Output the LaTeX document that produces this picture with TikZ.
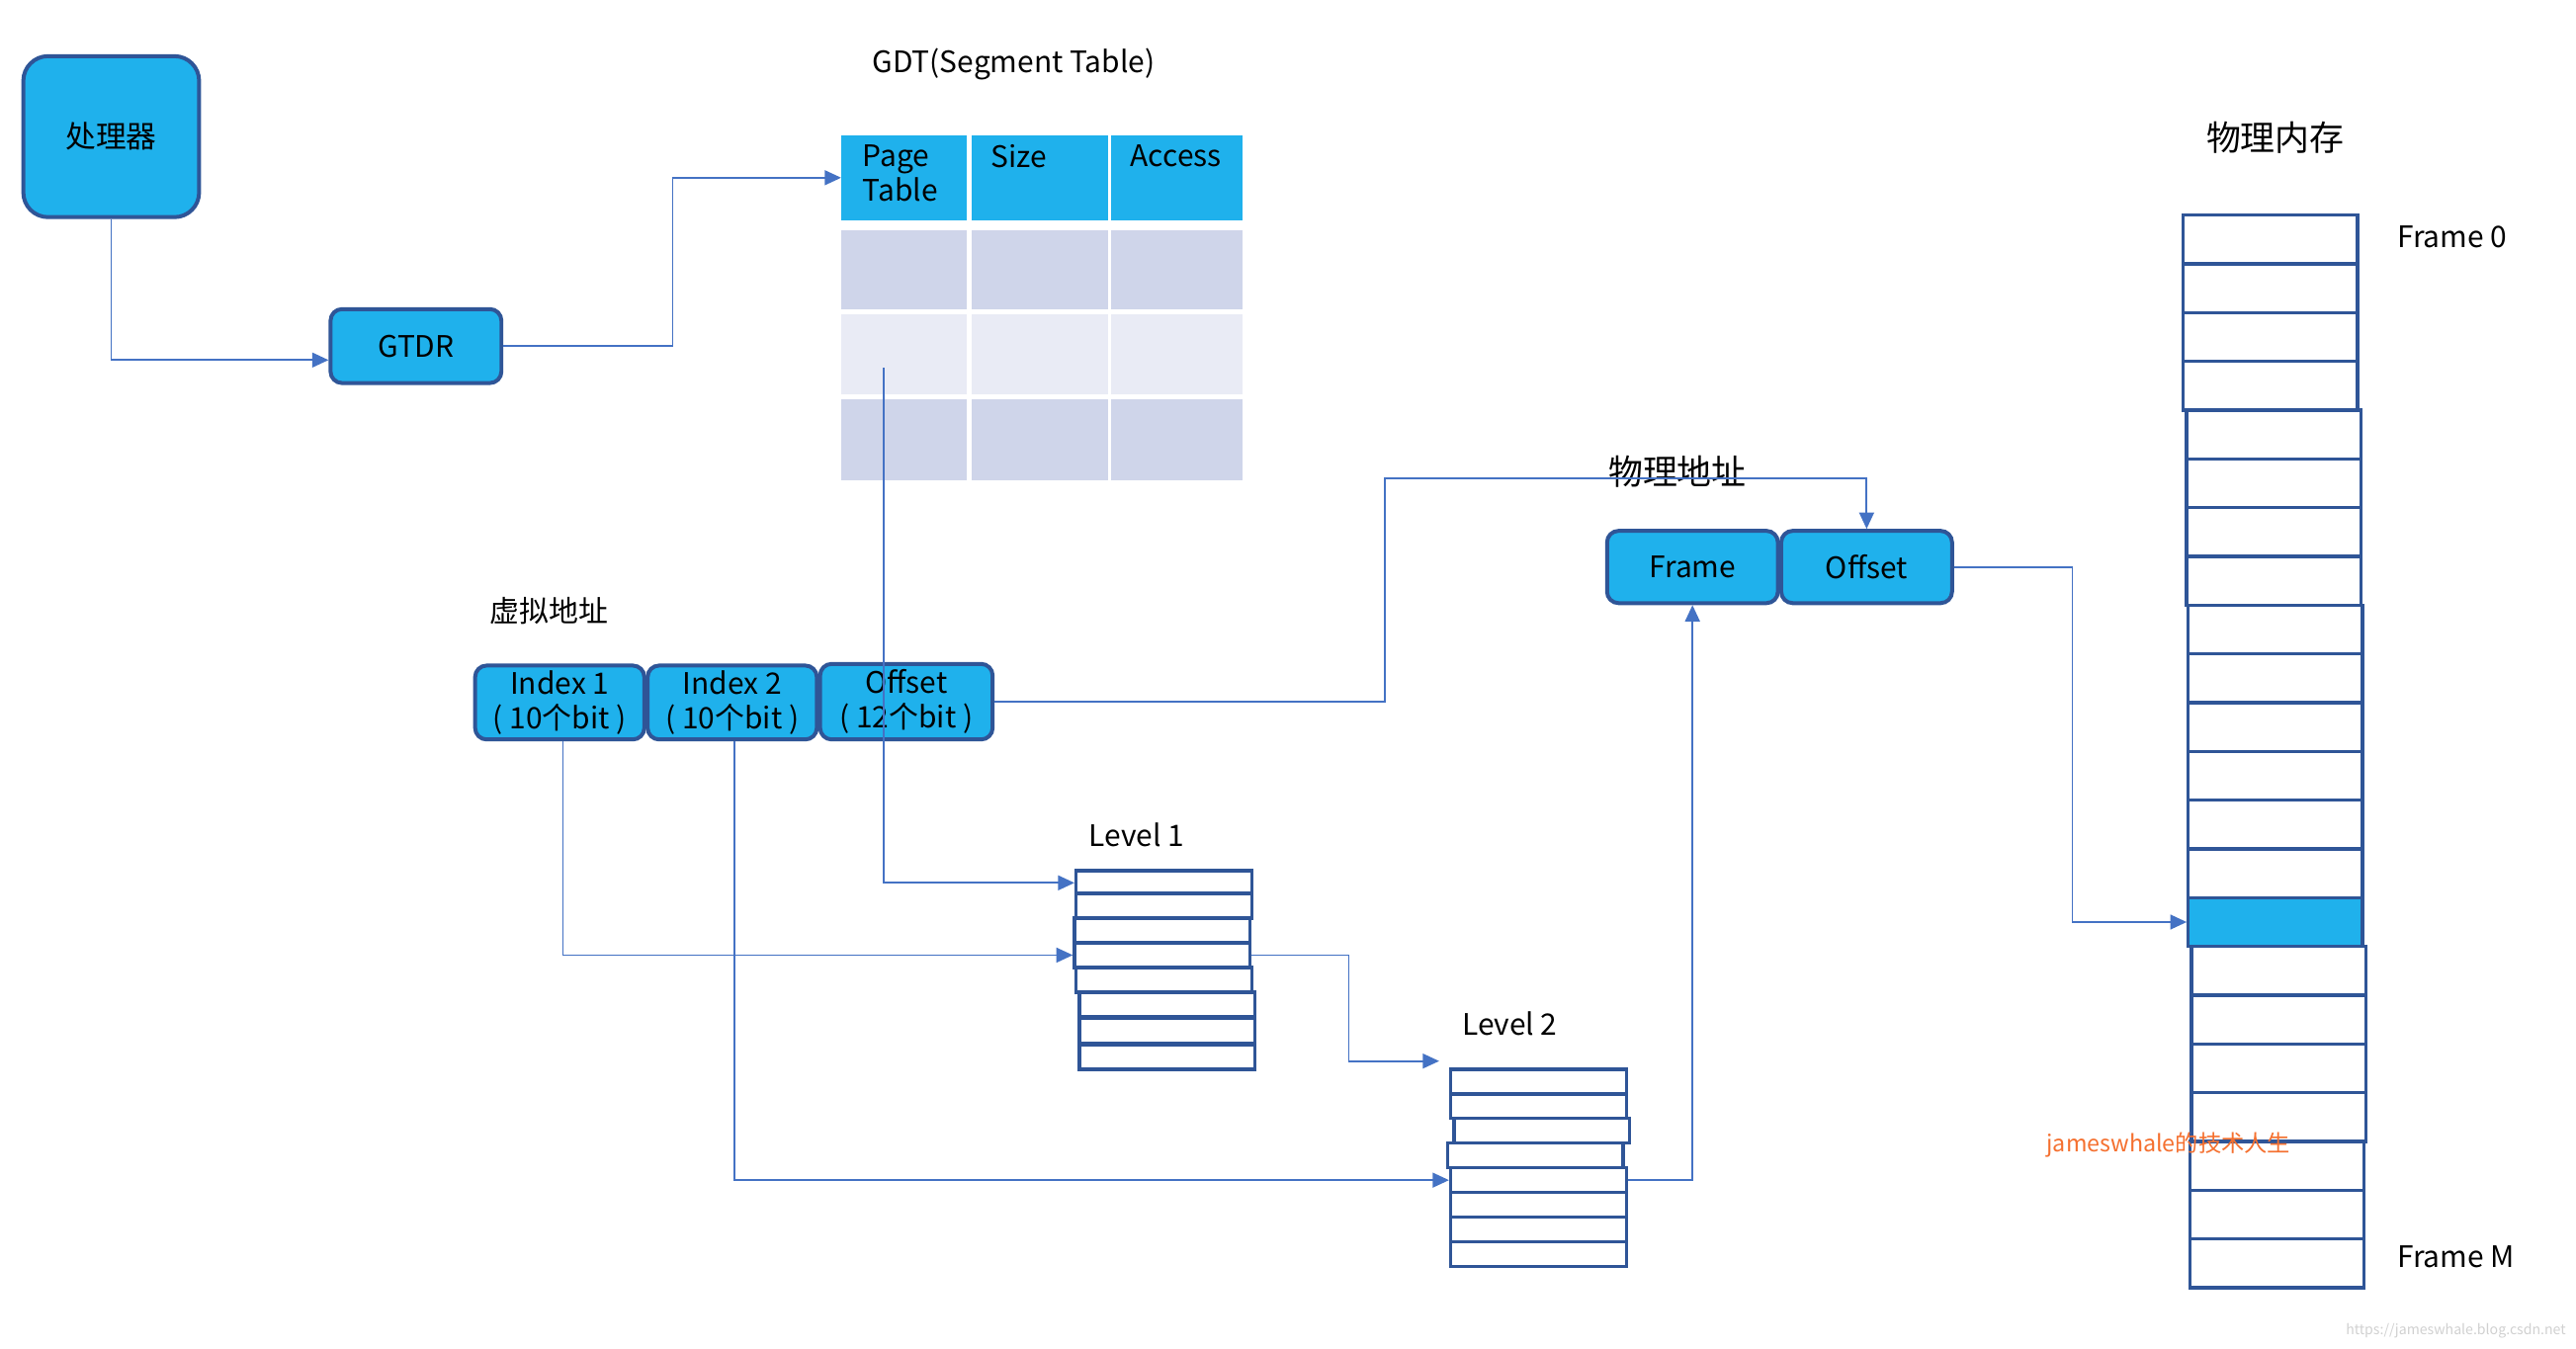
\documentclass[tikz,border=0pt]{standalone}
\usepackage{fontspec}
\setmainfont{Noto Sans CJK SC}
\usetikzlibrary{arrows.meta,calc}
\definecolor{cy}{HTML}{1FB1EC}
\definecolor{bdr}{HTML}{2F5597}
\definecolor{conn}{HTML}{4472C4}
\definecolor{tbA}{HTML}{CFD5EA}
\definecolor{tbB}{HTML}{E9EBF5}
\definecolor{wm}{HTML}{F5702F}
\begin{document}
\begin{tikzpicture}[x=1pt,y=-1pt,
  txt/.style={font=\fontsize{18}{21}\selectfont, inner sep=0pt},
  bluebox/.style={draw=bdr, fill=cy, line width=2.4pt, rounded corners=7pt, inner sep=0pt, anchor=north west,
     font=\fontsize{18}{21}\selectfont, align=center},
  cell/.style={fill=#1, inner sep=0pt, anchor=north west},
  stackrow/.style={draw=bdr, line width=2pt, fill=white, inner sep=0pt, anchor=north west, minimum width=107pt, minimum height=15pt},
  memrow/.style={draw=bdr, line width=2pt, fill=white, inner sep=0pt, anchor=north west, minimum width=106pt, minimum height=29.7pt},
  link/.style={draw=conn, line width=1.1pt, -{Triangle[length=10pt,width=9pt]}},
  plain/.style={draw=conn, line width=1.1pt}
]
\useasboundingbox (0,0) rectangle (1568,821);
\fill[white] (0,0) rectangle (1568,821);

% processor and GTDR
\node[bluebox, rounded corners=15pt, minimum width=107pt, minimum height=98pt, font=\fontsize{18.5}{22}\selectfont] (proc) at (13,33) {处理器};
\node[bluebox, minimum width=104pt, minimum height=45pt] (gtdr) at (200,187) {GTDR};

% GDT table
\node[txt] (gdtt) at (617,39) {GDT(Segment Table)};
\node[cell=cy, minimum width=76pt, minimum height=52pt] (h1) at (512,82) {};
\node[cell=cy, minimum width=83pt, minimum height=52pt] (h2) at (591,82) {};
\node[cell=cy, minimum width=80pt, minimum height=52pt] (h3) at (676,82) {};
\node[cell=tbA, minimum width=76pt, minimum height=48pt] (a1) at (512,140) {};
\node[cell=tbA, minimum width=83pt, minimum height=48pt] (a2) at (591,140) {};
\node[cell=tbA, minimum width=80pt, minimum height=48pt] (a3) at (676,140) {};
\node[cell=tbB, minimum width=76pt, minimum height=49pt] (b1) at (512,191) {};
\node[cell=tbB, minimum width=83pt, minimum height=49pt] (b2) at (591,191) {};
\node[cell=tbB, minimum width=80pt, minimum height=49pt] (b3) at (676,191) {};
\node[cell=tbA, minimum width=76pt, minimum height=49pt] (c1) at (512,243) {};
\node[cell=tbA, minimum width=83pt, minimum height=49pt] (c2) at (591,243) {};
\node[cell=tbA, minimum width=80pt, minimum height=49pt] (c3) at (676,243) {};
\node[txt, anchor=north west, align=left] (tpage) at (525,88) {Page\\Table};
\node[txt, anchor=north west] (tsize) at (603,88) {Size};
\node[txt, anchor=north west] (tacc) at (688,88) {Access};

% virtual address
\node[txt, font=\fontsize{18}{21}\selectfont] (vlab) at (334,372) {虚拟地址};
\node[bluebox, minimum width=103pt, minimum height=45pt] (idx1) at (288,404) {Index 1\\( 10个bit )};
\node[bluebox, minimum width=103pt, minimum height=45pt] (idx2) at (393,404) {Index 2\\( 10个bit )};
\node[bluebox, minimum width=105pt, minimum height=46pt] (voff) at (498,403) {Offset\\( 12个bit )};

% physical address
\node[txt, font=\fontsize{21}{25}\selectfont] (plab) at (1021,287) {物理地址};
\node[bluebox, minimum width=104pt, minimum height=44pt] (pframe) at (977,322) {Frame};
\node[bluebox, minimum width=104pt, minimum height=44pt] (poff) at (1083,322) {Offset};

% Level 1
\node[txt] (l1lab) at (692,508) {Level 1};
\foreach \i/\t/\x in {1/529/654,2/543/654,3/558/653,4/573/653,5/588/654,6/603/656,7/619/656,8/635/656}
  \node[stackrow] (l1r\i) at (\x,\t) {};
% Level 2
\node[txt] (l2lab) at (919,623) {Level 2};
\foreach \i/\t/\x in {1/650/882,2/665/882,3/680/884,4/695/880,5/710/882,6/725/882,7/740/882,8/755/882}
  \node[stackrow] (l2r\i) at (\x,\t) {};

% physical memory
\node[txt, font=\fontsize{21}{25}\selectfont] (mlab) at (1385,84) {物理内存};
\foreach \i/\dx in {1/0,2/0,3/0,4/0,5/2,6/2,7/2,8/2,9/3,10/3,11/3,12/3,13/3,14/3,16/5,17/5,18/5,19/5,20/4,21/4,22/4}
  \node[memrow] (m\i) at ({1328+\dx},{130+(\i-1)*29.68}) {};
\node[memrow, fill=cy] (m15) at (1331,{130+14*29.68}) {};
\node[txt, anchor=west] (f0) at (1459,144) {Frame 0};
\node[txt, anchor=west] (fm) at (1459,765) {Frame M};

% watermarks
\node[txt, font=\fontsize{14}{16}\selectfont, text=wm] (wm1) at (1320,697) {jameswhale的技术人生};
\node[txt, font=\fontsize{8.5}{10}\selectfont, text=black!18, anchor=east] (wm2) at (1562,810) {https://jameswhale.blog.csdn.net};

% connectors
\coordinate (gdtsel) at (538,224);
\coordinate (l2in) at (876,646);
\coordinate (offbend) at (843,291);
\draw[link] (proc.south) |- ($(gtdr.west)+(0,8.5)$);
\draw[link] (gtdr.east) -- ++(103,0) |- (h1.west);
\draw[link] (gdtsel) |- (l1r1.west);
\draw[link] ($(idx1.south)+(2,0)$) |- (l1r4.west);
\draw[link] ($(idx2.south)+(1.5,0)$) |- (l2r5.west);
\draw[link] (voff.east) -| (offbend) -| (poff.north);
\draw[link] (l1r4.east) -- ++(59,0) |- (l2in);
\draw[link] (l2r5.east) -| (pframe.south);
\draw[link] (poff.east) -- ++(72,0) |- (m15.west);
\end{tikzpicture}
\end{document}
